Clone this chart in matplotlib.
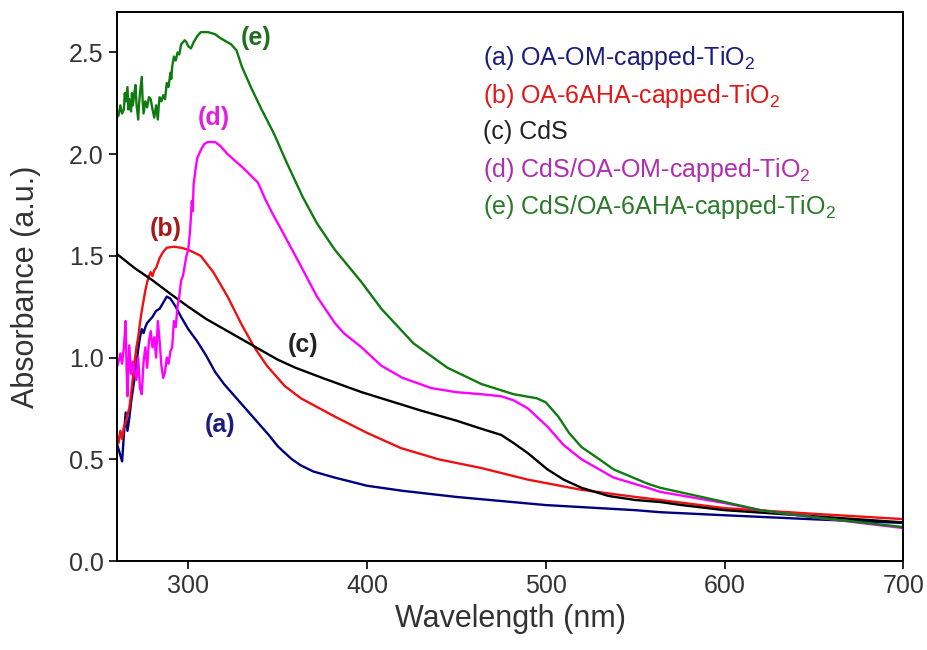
import numpy as np
import matplotlib
matplotlib.use('Agg')
import matplotlib.pyplot as plt

plt.rcParams['font.family'] = ['Liberation Sans', 'DejaVu Sans']
plt.rcParams['mathtext.fontset'] = 'custom'
plt.rcParams['mathtext.rm'] = 'Liberation Sans'
plt.rcParams['mathtext.default'] = 'regular'

# (a) OA-OM-capped-TiO2
wl_a = [260, 261, 262, 263, 264, 265, 266, 267, 268, 269, 270, 271, 272, 273, 274, 275,
        276, 277, 278, 279, 280, 282, 284, 286, 288, 290, 293, 296, 300, 305, 310, 315,
        320, 325, 330, 335, 340, 345, 350, 353, 358, 363, 370, 382, 400, 420, 450, 500,
        550, 564, 600, 650, 700]
abs_a = [0.58, 0.55, 0.52, 0.49, 0.62, 0.73, 0.64, 0.70, 0.78, 0.84, 0.90, 0.97, 1.04, 1.10, 1.14, 1.12,
         1.15, 1.17, 1.18, 1.19, 1.20, 1.23, 1.24, 1.27, 1.30, 1.29, 1.25, 1.20, 1.14, 1.08, 1.01, 0.93,
         0.87, 0.82, 0.77, 0.72, 0.67, 0.62, 0.565, 0.54, 0.50, 0.47, 0.44, 0.41, 0.37, 0.345, 0.315, 0.275,
         0.25, 0.24, 0.225, 0.205, 0.187]

# (b) OA-6AHA-capped-TiO2
wl_b = [260, 261, 262, 263, 264, 265, 266, 267, 268, 269, 270, 271, 272, 273, 274, 275,
        276, 277, 278, 279, 280, 281, 282, 284, 286, 288, 292, 296, 300, 307, 314, 322,
        330, 337, 344, 354, 363, 382, 400, 419, 440, 464, 490, 520, 550, 564, 600, 650, 700]
abs_b = [0.62, 0.58, 0.64, 0.60, 0.66, 0.68, 0.72, 0.75, 0.82, 0.90, 0.98, 1.05, 1.10, 1.17, 1.23, 1.28,
         1.33, 1.37, 1.40, 1.42, 1.40, 1.43, 1.44, 1.49, 1.52, 1.54, 1.545, 1.54, 1.53, 1.50, 1.42, 1.30,
         1.16, 1.05, 0.96, 0.86, 0.80, 0.71, 0.63, 0.555, 0.50, 0.457, 0.40, 0.35, 0.315, 0.30, 0.26, 0.232, 0.206]

# (c) CdS
wl_c = [260, 270, 280, 289, 300, 310, 326, 340, 350, 360, 375, 397, 408, 430, 450, 464,
        475, 482, 490, 501, 510, 520, 535, 550, 564, 576, 600, 650, 700]
abs_c = [1.51, 1.44, 1.38, 1.32, 1.25, 1.19, 1.11, 1.04, 0.99, 0.95, 0.90, 0.83, 0.80, 0.74, 0.69, 0.65,
         0.62, 0.58, 0.53, 0.45, 0.40, 0.36, 0.32, 0.30, 0.29, 0.275, 0.25, 0.22, 0.19]

# (d) CdS/OA-OM-capped-TiO2
wl_d = [260, 261, 262, 263, 264, 265, 265.5, 266, 267, 268, 269, 270, 271, 272, 273, 274,
        275, 276, 277, 278, 279, 280, 281, 282, 283, 284, 285, 286, 287, 288, 289, 290,
        291, 292, 293, 294, 295, 296, 297, 298, 299, 300, 301, 302, 302.5, 303, 304, 305,
        307, 309, 311, 315, 318, 322, 331, 339, 343, 347, 352, 363, 372, 382, 387, 397, 408,
        420, 436, 450, 464, 475, 482, 490, 501, 510, 520, 538, 557, 564, 600, 620, 650, 700]
abs_d = [0.95, 0.98, 1.02, 0.97, 1.05, 1.18, 0.95, 0.81, 1.06, 0.92, 0.98, 0.93, 0.89, 1.00, 0.85, 0.82,
         0.98, 1.05, 0.95, 1.08, 1.13, 1.05, 1.10, 1.00, 1.18, 1.08, 0.96, 0.90, 0.93, 1.00, 0.97, 1.03,
         1.05, 1.18, 1.15, 1.25, 1.30, 1.38, 1.40, 1.45, 1.50, 1.53, 1.62, 1.77, 1.72, 1.85, 1.92, 1.98,
         2.02, 2.05, 2.06, 2.06, 2.04, 2.00, 1.93, 1.86, 1.78, 1.71, 1.63, 1.45, 1.30, 1.17, 1.12, 1.05, 0.96,
         0.90, 0.85, 0.83, 0.82, 0.81, 0.79, 0.75, 0.66, 0.57, 0.50, 0.41, 0.36, 0.34, 0.285, 0.25, 0.215, 0.162]

# (e) CdS/OA-6AHA-capped-TiO2
wl_e = [260, 261, 262, 263, 264, 264.5, 265, 266, 266.5, 267, 268, 268.5, 269, 270, 270.5, 271,
        272, 272.5, 273, 274, 274.5, 275, 276, 277, 278, 279, 280, 281, 282, 283, 283.5, 284,
        285, 286, 287, 288, 289, 290, 290.5, 291, 292, 293, 294, 295, 296, 297, 298, 299,
        300, 301.5, 303, 305, 307, 311, 315, 318, 324, 327, 330, 335, 341, 348, 355, 364,
        372, 382, 397, 408, 426, 445, 464, 482, 495, 500, 507, 513, 520, 530, 538, 557,
        564, 600, 620, 650, 700]
abs_e = [2.18, 2.19, 2.24, 2.20, 2.22, 2.30, 2.26, 2.33, 2.22, 2.27, 2.21, 2.30, 2.24, 2.31, 2.34, 2.25,
         2.17, 2.25, 2.30, 2.38, 2.26, 2.20, 2.26, 2.23, 2.28, 2.27, 2.22, 2.18, 2.24, 2.17, 2.24, 2.28,
         2.26, 2.29, 2.27, 2.35, 2.33, 2.40, 2.37, 2.43, 2.48, 2.46, 2.50, 2.49, 2.54, 2.55, 2.56, 2.55,
         2.53, 2.52, 2.55, 2.58, 2.60, 2.60, 2.59, 2.57, 2.54, 2.51, 2.43, 2.33, 2.22, 2.10, 1.96, 1.79,
         1.66, 1.53, 1.37, 1.24, 1.07, 0.95, 0.87, 0.82, 0.80, 0.78, 0.71, 0.63, 0.56, 0.50, 0.45, 0.38,
         0.36, 0.29, 0.25, 0.215, 0.167]

series = [
    (wl_a, abs_a, '#000080', '(a) OA-OM-capped-TiO$_2$', '#1c1c7c', '(a)', (318, 0.67), '#1c1c7c'),
    (wl_b, abs_b, '#ee1111', '(b) OA-6AHA-capped-TiO$_2$', '#e01818', '(b)', (287.5, 1.63), '#a41a1a'),
    (wl_c, abs_c, '#000000', '(c) CdS', '#222222', '(c)', (364, 1.06), '#222222'),
    (wl_d, abs_d, '#ff00ff', '(d) CdS/OA-OM-capped-TiO$_2$', '#b02cb0', '(d)', (314.5, 2.18), '#e020e0'),
    (wl_e, abs_e, '#0f7a0f', '(e) CdS/OA-6AHA-capped-TiO$_2$', '#2a7a2a', '(e)', (338, 2.57), '#1f6f1f'),
]

fig = plt.figure(figsize=(9.28, 6.5), dpi=100)
ax = fig.add_axes([0.1258, 0.1369, 0.8476, 0.845])

for wl, ab, col, lab, tcol, tag, pos, acol in series:
    ax.plot(wl, ab, color=col, lw=1.7)

# legend-like text block
ybase = [0.903, 0.834, 0.768, 0.699, 0.632]
for (wl, ab, col, lab, tcol, tag, pos, acol), yb in zip(series, ybase):
    ax.text(0.4657, yb, lab, color=tcol, fontsize=18, transform=ax.transAxes,
            ha='left', va='baseline')
    ax.text(pos[0], pos[1], tag, color=acol, fontsize=18, fontweight='bold',
            ha='center', va='center')

ax.set_xlim(260, 700)
ax.set_ylim(0, 2.7)
ax.set_xticks([300, 400, 500, 600, 700])
ax.set_yticks([0.0, 0.5, 1.0, 1.5, 2.0, 2.5])
ax.set_yticklabels(['0.0', '0.5', '1.0', '1.5', '2.0', '2.5'])
ax.tick_params(direction='out', length=6, width=1.2, labelsize=18, labelcolor='#333333')
for s in ax.spines.values():
    s.set_linewidth(1.4)
ax.set_xlabel('Wavelength (nm)', fontsize=22, color='#333333', labelpad=4)
ax.set_ylabel('Absorbance (a.u.)', fontsize=22, color='#333333', labelpad=20)

plt.savefig('out.png', dpi=100)
